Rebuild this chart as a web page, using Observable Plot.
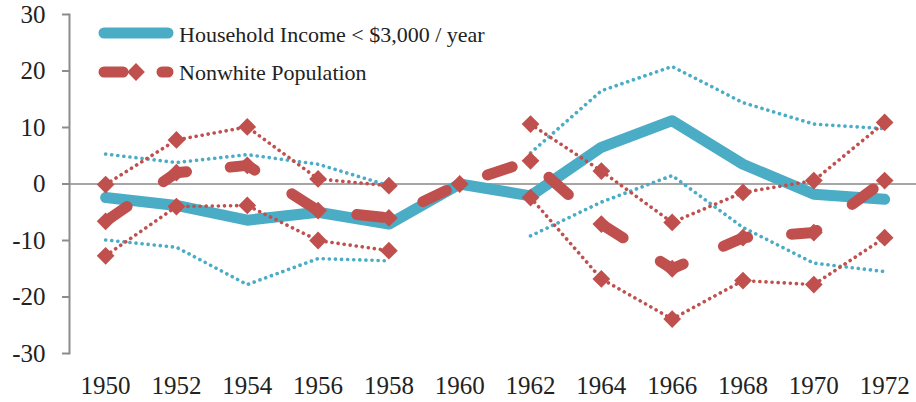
<!DOCTYPE html>
<html>
<head>
<meta charset="utf-8">
<script src="https://cdn.jsdelivr.net/npm/d3@7"></script>
<script src="https://cdn.jsdelivr.net/npm/@observablehq/plot@0.6"></script>
<style>
  html, body { margin: 0; padding: 0; background: #fff; }
  #chart { width: 916px; height: 402px; }
  #chart svg text { font-family: 'Liberation Serif', 'DejaVu Serif', serif !important; }
</style>
</head>
<body>
<div id="chart"></div>
<script>
const years = [1950, 1952, 1954, 1956, 1958, 1960, 1962, 1964, 1966, 1968, 1970, 1972];
const yTicks = [-30, -20, -10, 0, 10, 20, 30];

const income      = [-2.4, -3.8, -6.4, -5.0, -7.1, 0, -2.1, 6.5, 11.2, 3.5, -1.8, -2.7];
const incomeHigh  = [5.3, 3.8, 5.2, 3.5, -0.3, null, 5.5, 16.5, 20.8, 14.4, 10.6, 9.8];
const incomeLow   = [-9.9, -11.2, -17.8, -13.2, -13.6, null, -9.2, -3.2, 1.5, -7.7, -14.0, -15.5];

const nonwhite     = [-6.6, 2.0, 3.3, -4.7, -6.0, 0, 4.1, -7.1, -15.0, -9.5, -8.6, 0.6];
const nonwhiteHigh = [-0.1, 7.8, 10.1, 0.9, -0.3, null, 10.6, 2.3, -6.8, -1.5, 0.6, 10.9];
const nonwhiteLow  = [-12.7, -4.0, -3.8, -10.0, -11.8, null, -2.4, -16.8, -23.9, -17.1, -17.8, -9.5];

const seriesNames = ["Household Income < $3,000 / year", "Nonwhite Population"];

const BLUE = "#4BACC6";
const RED = "#C0504D";
const SERIF = "'Liberation Serif', 'DejaVu Serif', serif";
const R = 8;

const rows = years.map((year, i) => ({
  year,
  income: income[i], incomeHigh: incomeHigh[i], incomeLow: incomeLow[i],
  nonwhite: nonwhite[i], nonwhiteHigh: nonwhiteHigh[i], nonwhiteLow: nonwhiteLow[i]
}));

const dotted = {strokeWidth: 3.6, strokeDasharray: "0.1,6", strokeLinecap: "round", strokeLinejoin: "round"};

const chart = Plot.plot({
  width: 916,
  height: 402,
  marginLeft: 69,
  marginRight: 0,
  marginTop: 14,
  marginBottom: 49,
  x: {domain: [1948.98, 1972.9]},
  y: {domain: [-30, 30]},
  style: {fontFamily: SERIF, fontSize: "25px", color: "#222", background: "#fff"},
  marks: [
    Plot.ruleY([0], {stroke: "#a6a6a6", strokeWidth: 2}),
    Plot.frame({anchor: "left", stroke: "#8c8c8c", strokeWidth: 2}),
    Plot.axisY({ticks: yTicks, tickSize: 7, text: null, stroke: "#8c8c8c", strokeWidth: 2, label: null}),
    Plot.axisY({ticks: yTicks, tickSize: 0, tickPadding: 24, fill: "#222", label: null, fontSize: 25, tickFormat: d => String(d)}),
    Plot.axisX({ticks: years, tickSize: 0, tickPadding: 23, fill: "#222", label: null, fontSize: 25, tickFormat: d => String(d)}),

    Plot.line(rows, {x: "year", y: "incomeHigh", stroke: BLUE, ...dotted}),
    Plot.line(rows, {x: "year", y: "incomeLow", stroke: BLUE, ...dotted}),
    Plot.line(rows, {x: "year", y: "income", stroke: BLUE, strokeWidth: 11, strokeLinejoin: "round", strokeLinecap: "round"}),

    Plot.line(rows, {x: "year", y: "nonwhiteHigh", stroke: RED, ...dotted}),
    Plot.line(rows, {x: "year", y: "nonwhiteLow", stroke: RED, ...dotted}),
    Plot.dot(rows, {x: "year", y: "nonwhiteHigh", symbol: "diamond2", r: R, fill: RED, stroke: "none"}),
    Plot.dot(rows, {x: "year", y: "nonwhiteLow", symbol: "diamond2", r: R, fill: RED, stroke: "none"}),

    Plot.line(rows, {x: "year", y: "nonwhite", stroke: RED, strokeWidth: 11, strokeDasharray: "26,44", strokeLinecap: "round", strokeLinejoin: "round"}),
    Plot.dot(rows, {x: "year", y: "nonwhite", symbol: "diamond2", r: R, fill: RED, stroke: "none"})
  ]
});

document.getElementById("chart").appendChild(chart);

// legend
const svg = d3.select(chart);
const lg = svg.append("g")
  .attr("font-family", SERIF)
  .attr("font-size", 22)
  .attr("fill", "#222")
  .attr("text-anchor", "start");
lg.append("line").attr("x1", 104).attr("x2", 168).attr("y1", 33).attr("y2", 33)
  .attr("stroke", BLUE).attr("stroke-width", 11).attr("stroke-linecap", "round");
lg.append("text").attr("x", 179).attr("y", 41.5).attr("text-anchor", "start").text(seriesNames[0]);

lg.append("line").attr("x1", 104).attr("x2", 123).attr("y1", 72).attr("y2", 72)
  .attr("stroke", RED).attr("stroke-width", 11).attr("stroke-linecap", "round");
lg.append("line").attr("x1", 162).attr("x2", 168).attr("y1", 72).attr("y2", 72)
  .attr("stroke", RED).attr("stroke-width", 11).attr("stroke-linecap", "round");
lg.append("path").attr("transform", "translate(136,72)")
  .attr("d", d3.symbol(d3.symbolDiamond2, Math.PI * R * R)())
  .attr("fill", RED);
lg.append("text").attr("x", 179).attr("y", 79.5).attr("text-anchor", "start").text(seriesNames[1]);
</script>
</body>
</html>
